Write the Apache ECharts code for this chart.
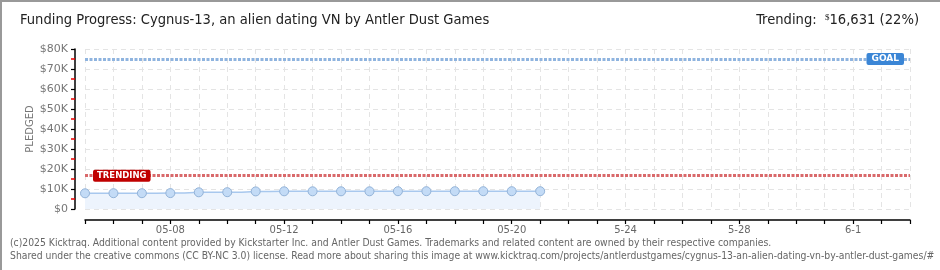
<!DOCTYPE html>
<html><head><meta charset="utf-8">
<script src="https://cdn.jsdelivr.net/npm/echarts@6/dist/echarts.min.js"></script>
<style>
html,body{margin:0;padding:0;background:#fff;}
#wrap{width:940px;height:270px;box-sizing:border-box;border:2px solid #999;border-right:none;border-bottom:none;position:relative;overflow:hidden;}
#c{width:940px;height:270px;position:absolute;left:-2px;top:-2px;}
</style></head>
<body><div id="wrap"><div id="c"></div></div>
<script>
const days = ["05-05","05-06","05-07","05-08","05-09","05-10","05-11","05-12","05-13","05-14","05-15","05-16","05-17","05-18","05-19","05-20","05-21","05-22","05-23","05-24","05-25","05-26","05-27","05-28","05-29","05-30","05-31","06-01","06-02","06-03"];
const tickLabels = {"05-08":"05-08","05-12":"05-12","05-16":"05-16","05-20":"05-20","05-24":"5-24","05-28":"5-28","06-01":"6-1"};
const pledged = [7850,7900,7900,7950,8350,8400,8800,8850,8850,8850,8850,8900,8900,8900,8900,8900,8900];
const goal = 75000;
const trending = 16631;
const yTicks = [0,10000,20000,30000,40000,50000,60000,70000,80000];

const chart = echarts.init(document.getElementById('c'));
const pix = "DejaVu Sans";
const head = '14.6px "Liberation Sans Narrow","DejaVu Sans Condensed"';
chart.setOption({
  animation:false,
  graphic:[
    {type:'text',left:20,top:13,style:{text:'Funding Progress: Cygnus-13, an alien dating VN by Antler Dust Games',font:head,fill:'#222'}},
    {type:'text',right:21,top:13,style:{rich:{a:{font:head,fill:'#222'},s:{font:'9px "Liberation Sans Narrow"',fill:'#222',verticalAlign:'top'}},text:'{a|Trending:  }{s|$}{a|16,631 (22%)}'}},
    {type:'text',left:10,top:238,style:{text:'(c)2025 Kicktraq. Additional content provided by Kickstarter Inc. and Antler Dust Games. Trademarks and related content are owned by their respective companies.',font:'10.3px "DejaVu Sans Condensed","Liberation Sans Narrow"',fill:'#666'}},
    {type:'text',left:10,top:251,style:{text:'Shared under the creative commons (CC BY-NC 3.0) license. Read more about sharing this image at www.kicktraq.com/projects/antlerdustgames/cygnus-13-an-alien-dating-vn-by-antler-dust-games/#',font:'10.3px "DejaVu Sans Condensed","Liberation Sans Narrow"',fill:'#666'}}
  ],
  grid:{left:85,right:30,top:49,bottom:61},
  xAxis:{type:'category',data:days,boundaryGap:false,offset:11,
    axisLine:{onZero:false,lineStyle:{color:'#000',width:1.5}},
    axisTick:{interval:0,length:4,lineStyle:{color:'#000',width:1.2}},
    axisLabel:{interval:0,color:'#666',fontFamily:pix,fontSize:10,margin:5,formatter:v=>tickLabels[v]||''},
    splitLine:{show:true,interval:0,lineStyle:{color:'#e4e4e4',type:[5,4]}}},
  yAxis:{type:'value',min:yTicks[0],max:yTicks[yTicks.length-1],interval:10000,offset:10,
    name:'PLEDGED',nameLocation:'middle',nameGap:40,nameMoveOverlap:false,nameTextStyle:{color:'#777',fontFamily:pix,fontSize:10},
    axisLine:{show:true,lineStyle:{color:'#000',width:1.5}},
    axisTick:{show:true,length:4,lineStyle:{color:'#000',width:1.2}},
    minorTick:{show:true,splitNumber:2,length:4,lineStyle:{color:'#e00',width:1.5}},
    axisLabel:{color:'#777',fontFamily:pix,fontSize:11,margin:7,formatter:v=>'$'+(v===0?'0':(v/1000)+'K')},
    splitLine:{lineStyle:{color:'#e4e4e4',type:[5,4]}}},
  series:[{type:'line',data:pledged,step:'middle',symbol:'circle',symbolSize:9,
    lineStyle:{color:'#a8c8ee',width:1.5},
    itemStyle:{color:'#c3dbf6',borderColor:'#93b3d8',borderWidth:1},
    areaStyle:{color:'#edf4fd',opacity:1},
    markLine:{symbol:'none',silent:true,animation:false,
      data:[
        {yAxis:goal,lineStyle:{color:'#8fb4df',type:[3,1.5],width:3},
         label:{show:true,position:'insideEnd',distance:[6,-6],formatter:'GOAL',color:'#fff',backgroundColor:'#3b86d6',borderRadius:2,padding:[2,5,1,5],fontFamily:pix,fontSize:9,fontWeight:'bold'}},
        {yAxis:trending,lineStyle:{color:'#d9696b',type:[3,1.5],width:3},
         label:{show:true,position:'insideStart',distance:[8,-6],formatter:'TRENDING',color:'#fff',backgroundColor:'#c00000',borderRadius:2,padding:[2,4,1,4],fontFamily:pix,fontSize:8.5,fontWeight:'bold'}}
      ]}
  }]
});
</script></body></html>
